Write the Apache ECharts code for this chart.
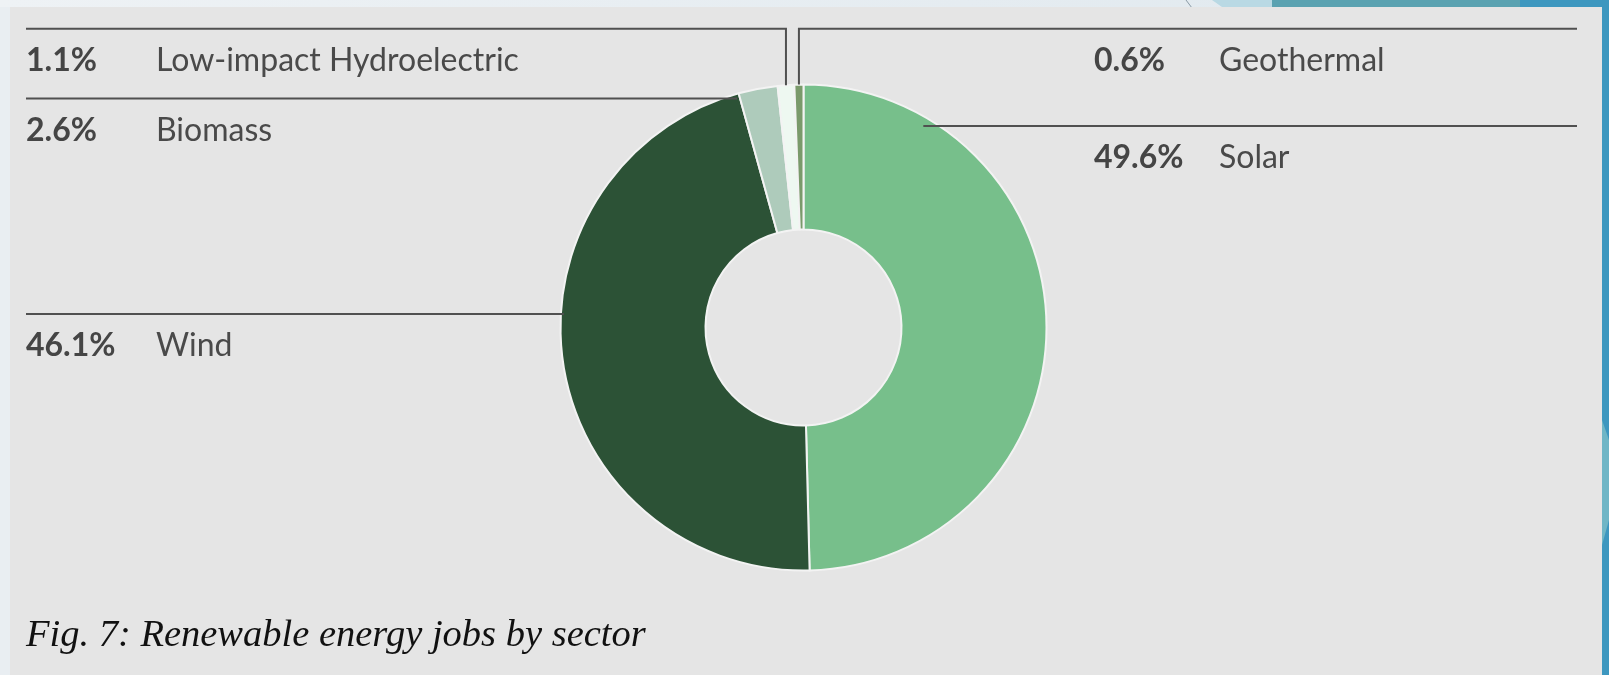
<!DOCTYPE html>
<html><head><meta charset="utf-8">
<script src="https://cdn.jsdelivr.net/npm/echarts@6/dist/echarts.min.js"></script>
<style>html,body{margin:0;padding:0;background:#e9eef2;overflow:hidden}#c{width:1609px;height:675px}</style>
</head><body><div id="c"></div>
<script>
// ---- data ----
const sectors = ['Solar', 'Wind', 'Biomass', 'Low-impact Hydroelectric', 'Geothermal'];
const shares = [49.6, 46.1, 2.6, 1.1, 0.6];
const sectorColors = ['#77bf8b', '#2c5236', '#aecbbb', '#eef8f1', '#7a9a6b'];
const titleText = 'Fig. 7: Renewable energy jobs by sector';

// ---- layout (label rows) ----
const CX = 803.5, CY = 327.5, R_IN = 98, R_OUT = 243;
const LEFT_X = 26, RIGHT_END = 1577, RIGHT_TEXT_X = 1094;
const labelRows = [
  { side: 'right', lineY: 126, kind: 'h', inset: 16 },
  { side: 'left', lineY: 314, kind: 'h', inset: 3 },
  { side: 'left', lineY: 98.5, kind: 'h', inset: 15 },
  { side: 'left', lineY: 28.7, kind: 'v' },
  { side: 'right', lineY: 28.7, kind: 'v' }
];
const TEXT_OFFSET = 32;
const LABEL_FONT = 'Lato';
const LABEL_SIZE = 32;

const chart = echarts.init(document.getElementById('c'), null, { renderer: 'canvas' });

function anchorOf(i, params) {
  const row = labelRows[i];
  if (row.kind === 'v') {
    const p = params.labelLinePoints && params.labelLinePoints[0];
    if (p) return [p[0], p[1]];
    let cum = 0; for (let k = 0; k < i; k++) cum += shares[k];
    const ang = (cum + shares[i] / 2) / 100 * 2 * Math.PI;
    return [CX + R_OUT * Math.sin(ang), CY - R_OUT * Math.cos(ang)];
  }
  const dy = row.lineY - CY;
  const dx = Math.sqrt(R_OUT * R_OUT - dy * dy);
  return row.side === 'left' ? [CX - dx + row.inset, row.lineY] : [CX + dx - row.inset, row.lineY];
}

const pieData = sectors.map((s, i) => ({ name: s, value: shares[i], itemStyle: { color: sectorColors[i] } }));

const option = {
  animation: false,
  backgroundColor: '#e9eef2',
  title: {
    text: titleText, left: 26, top: 616, padding: 0,
    textStyle: { fontFamily: 'Liberation Serif', fontStyle: 'italic', fontWeight: 'normal', fontSize: 38.5, color: '#111111' }
  },
  graphic: [
    { type: 'rect', z: -10, shape: { x: 0, y: 0, width: 1609, height: 7 },
      style: { fill: new echarts.graphic.LinearGradient(0, 0, 1, 0, [{ offset: 0, color: '#eef2f5' }, { offset: 1, color: '#dfe8ee' }]) } },
    { type: 'polygon', z: -9, shape: { points: [[1212, 0], [1272, 0], [1272, 7], [1222, 7]] }, style: { fill: '#b9d9e4' } },
    { type: 'polygon', z: -9, shape: { points: [[1272, 0], [1520, 0], [1520, 7], [1272, 7]] }, style: { fill: '#5aa2b1' } },
    { type: 'polygon', z: -9, shape: { points: [[1520, 0], [1609, 0], [1609, 675], [1602, 675], [1602, 7], [1520, 7]] }, style: { fill: '#3d97bf' } },
    { type: 'polygon', z: -8, shape: { points: [[1602, 420], [1609, 440], [1609, 520], [1602, 545]] }, style: { fill: '#6fb6c6' } },
    { type: 'line', z: -8, shape: { x1: 1186, y1: 0, x2: 1192, y2: 8 }, style: { stroke: '#8a9aa5', lineWidth: 1 } },
    { type: 'rect', z: -5, shape: { x: 10, y: 7, width: 1592, height: 668 }, style: { fill: '#e5e5e5' } }
  ],
  series: [{
    type: 'pie',
    z: 2,
    center: [CX, CY],
    radius: [R_IN, R_OUT],
    startAngle: 90,
    clockwise: true,
    emphasis: { disabled: true },
    itemStyle: { borderColor: '#f3f3f3', borderWidth: 2 },
    label: { show: false },
    labelLine: { show: false },
    data: pieData
  }, {
    // transparent overlay carrying labels so the leader lines sit above the slices
    type: 'pie',
    z: 3,
    silent: true,
    center: [CX, CY],
    radius: [R_IN, R_OUT],
    startAngle: 90,
    clockwise: true,
    avoidLabelOverlap: false,
    minShowLabelAngle: 0,
    emphasis: { disabled: true },
    itemStyle: { color: 'rgba(0,0,0,0)', borderWidth: 0 },
    data: sectors.map((s, i) => ({ name: s, value: shares[i] })),
    label: {
      show: true,
      position: 'outer',
      color: '#4a4a4a',
      fontFamily: LABEL_FONT,
      fontSize: LABEL_SIZE,
      formatter: p => {
        const side = labelRows[p.dataIndex].side;
        return '{' + (side === 'left' ? 'pl' : 'pr') + '|' + shares[p.dataIndex].toFixed(1) + '%}{n|' + p.name + '}';
      },
      rich: {
        pl: { width: 130, fontWeight: 'bold', fontSize: LABEL_SIZE, fontFamily: LABEL_FONT, color: '#454545' },
        pr: { width: 125, fontWeight: 'bold', fontSize: LABEL_SIZE, fontFamily: LABEL_FONT, color: '#454545' },
        n: { fontSize: LABEL_SIZE, fontFamily: LABEL_FONT, color: '#4a4a4a' }
      }
    },
    labelLine: { show: true, lineStyle: { color: '#505050', width: 2 } },
    labelLayout: params => {
      const i = params.dataIndex;
      const row = labelRows[i];
      const a = anchorOf(i, params);
      let pts;
      if (row.kind === 'v') {
        pts = row.side === 'left'
          ? [[a[0], a[1]], [a[0], row.lineY], [LEFT_X, row.lineY]]
          : [[a[0], a[1]], [a[0], row.lineY], [RIGHT_END, row.lineY]];
      } else {
        pts = row.side === 'left'
          ? [[a[0], a[1]], [(a[0] + LEFT_X) / 2, row.lineY], [LEFT_X, row.lineY]]
          : [[a[0], a[1]], [(a[0] + RIGHT_END) / 2, row.lineY], [RIGHT_END, row.lineY]];
      }
      return {
        x: row.side === 'left' ? LEFT_X : RIGHT_TEXT_X,
        y: row.lineY + TEXT_OFFSET,
        align: 'left',
        verticalAlign: 'middle',
        labelLinePoints: pts
      };
    }
  }]
};
chart.setOption(option);
</script>
</body></html>
